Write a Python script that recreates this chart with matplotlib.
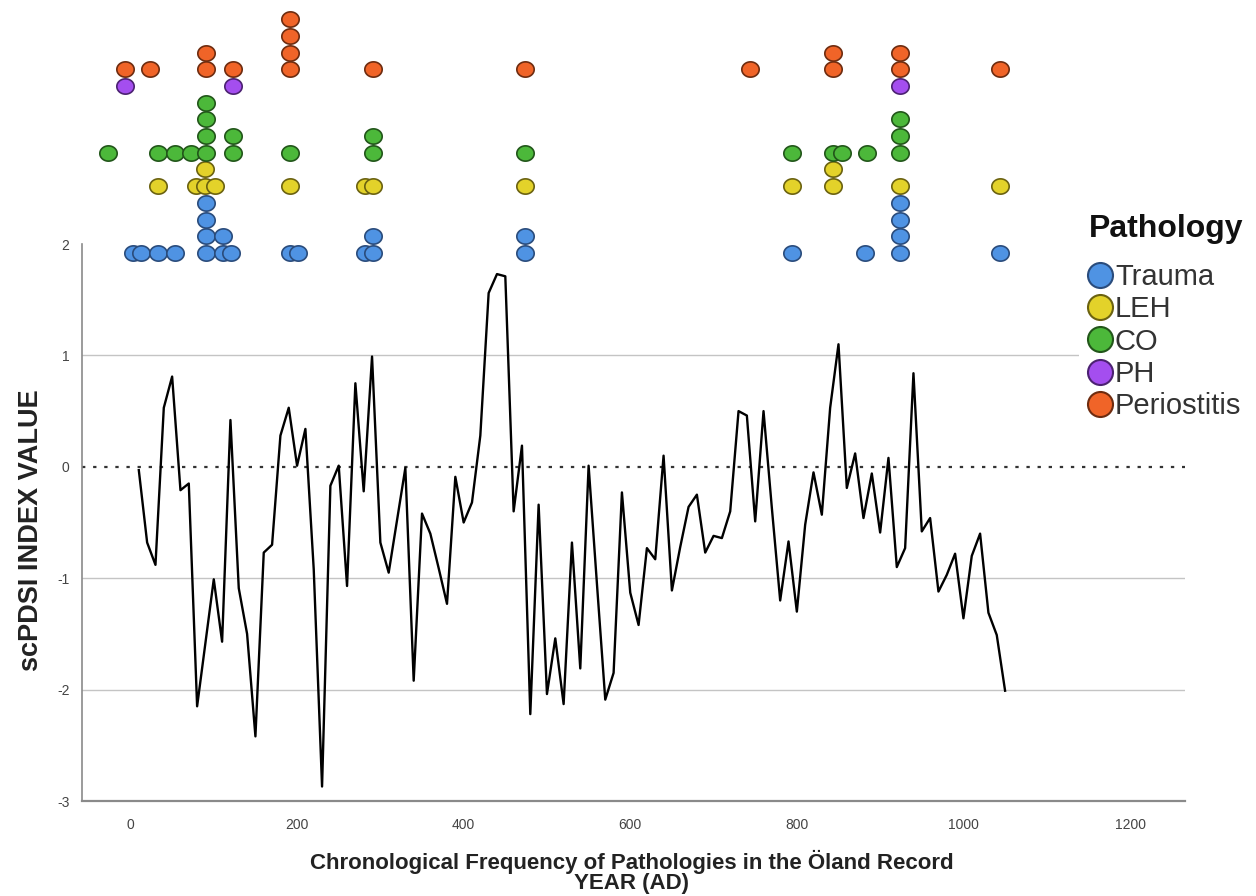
import numpy as np
import matplotlib
matplotlib.use("Agg")
import matplotlib.pyplot as plt
from matplotlib.path import Path
from matplotlib.lines import Line2D

plt.rcParams['font.family'] = ['Liberation Sans', 'DejaVu Sans']

# ---------------- data ----------------
years = list(range(10, 1051, 10))
scpdsi = [-0.03, -0.68, -0.88, 0.53, 0.81, -0.21, -0.15, -2.15, -1.58, -1.01,
          -1.57, 0.42, -1.09, -1.50, -2.42, -0.77, -0.70, 0.28, 0.53, 0.01,
          0.34, -0.92, -2.87, -0.17, 0.01, -1.07, 0.75, -0.22, 0.99, -0.68,
          -0.95, -0.48, -0.01, -1.92, -0.42, -0.60, -0.91, -1.23, -0.09, -0.50,
          -0.32, 0.28, 1.56, 1.73, 1.71, -0.40, 0.19, -2.22, -0.34, -2.04,
          -1.54, -2.13, -0.68, -1.81, 0.01, -1.05, -2.09, -1.85, -0.23, -1.13,
          -1.42, -0.73, -0.83, 0.10, -1.11, -0.72, -0.36, -0.25, -0.77, -0.62,
          -0.64, -0.40, 0.50, 0.46, -0.49, 0.50, -0.37, -1.20, -0.67, -1.30,
          -0.52, -0.05, -0.43, 0.53, 1.10, -0.19, 0.12, -0.46, -0.06, -0.59,
          0.08, -0.90, -0.73, 0.84, -0.58, -0.46, -1.12, -0.97, -0.78, -1.36,
          -0.80, -0.60, -1.31, -1.51, -2.01]

pathologies = ["Trauma", "LEH", "CO", "PH", "Periostitis"]
colors = ["#4F93E3", "#E3D22A", "#4CB83A", "#A44EEF", "#F06428"]
edges = ["#2A4C7C", "#6B6210", "#22561A", "#4C2272", "#6E2C10"]

trauma_years = [3, 13, 33, 53, 91, 111, 121, 191, 201, 281, 291, 474, 794, 882, 924, 1044]
trauma_counts = [1, 1, 1, 1, 4, 2, 1, 1, 1, 1, 2, 2, 1, 1, 4, 1]
leh_years = [33, 79, 89, 101, 191, 281, 291, 474, 794, 844, 924, 1044]
leh_counts = [1, 1, 2, 1, 1, 1, 1, 1, 1, 2, 1, 1]
co_years = [-27, 33, 53, 73, 91, 123, 191, 291, 474, 794, 844, 854, 884, 924]
co_counts = [1, 1, 1, 1, 4, 2, 1, 2, 1, 1, 1, 1, 1, 3]
ph_years = [-7, 123, 924]
ph_counts = [1, 1, 1]
perio_years = [-7, 23, 91, 123, 192, 291, 474, 744, 844, 924, 1044]
perio_counts = [1, 1, 2, 1, 4, 1, 1, 1, 2, 2, 1]

dot_years = [trauma_years, leh_years, co_years, ph_years, perio_years]
dot_counts = [trauma_counts, leh_counts, co_counts, ph_counts, perio_counts]
row_base = [0, 4, 6, 10, 11]

xticks = [0, 200, 400, 600, 800, 1000, 1200]
yticks = [-3, -2, -1, 0, 1, 2]

# ---------------- figure ----------------
W, H = 1256, 896
fig = plt.figure(figsize=(W / 100, H / 100), dpi=100)

def fx(px):
    return px / W

def fy(py):
    return 1 - py / H

L, R, T, B = 82, 1185, 244, 801
ax = fig.add_axes([fx(L), fy(B), fx(R) - fx(L), fy(T) - fy(B)])
xlim = (-58.2, 1266)
ax.set_xlim(*xlim)
ax.set_ylim(-3, 2)

for g in [1, -1, -2]:
    ax.axhline(g, color="#c4c4c4", lw=1.0, zorder=1)
ax.axhline(0, color="#333333", lw=1.6, ls=(0, (1.5, 3.5)), zorder=2)

ax.plot(years, scpdsi, color="black", lw=1.7, zorder=3)

for s in ["top", "right"]:
    ax.spines[s].set_visible(False)
ax.spines["left"].set_color("#8a8a8a")
ax.spines["bottom"].set_color("#8a8a8a")
ax.spines["left"].set_linewidth(1.2)
ax.spines["bottom"].set_linewidth(1.6)
ax.set_xticks(xticks)
ax.set_yticks(yticks)
ax.set_xticklabels([str(v) for v in xticks])
ax.set_yticklabels([str(v) for v in yticks])
ax.tick_params(length=0, labelsize=10, labelcolor="#444444")
ax.tick_params(axis="x", pad=12)
ax.tick_params(axis="y", pad=9)

fig.text(fx(31), fy(530), "scPDSI INDEX VALUE", rotation=90, ha="center",
         va="center", fontsize=19.5, fontweight="bold", color="#222222")
fig.text(fx(632), fy(872), "Chronological Frequency of Pathologies in the Öland Record\nYEAR (AD)",
         ha="center", va="center", fontsize=16, fontweight="bold",
         color="#222222", linespacing=0.9)

# ---------------- dot strip ----------------
axd = fig.add_axes([fx(L), fy(262), fx(R) - fx(L), fy(0) - fy(262)])
axd.set_xlim(*xlim)
axd.set_ylim(-0.54, 15.15)
axd.axis("off")
axd.patch.set_alpha(0)

t = np.linspace(0, 2 * np.pi, 60)
ell = Path(np.column_stack([np.cos(t), 0.88 * np.sin(t)]), closed=True)

for yrs, cnts, base, c, e in zip(dot_years, dot_counts, row_base, colors, edges):
    xs, ys = [], []
    for yv, n in zip(yrs, cnts):
        for i in range(n):
            xs.append(yv)
            ys.append(base + i)
    axd.plot(xs, ys, ls="none", marker=ell, ms=12.5, mfc=c, mec=e, mew=1.2,
             clip_on=False)

# ---------------- legend ----------------
fig.text(fx(1089), fy(229), "Pathology", ha="left", va="center",
         fontsize=23, fontweight="bold", color="#111111")
handles = [Line2D([], [], ls="none", marker="o", ms=18, mfc=c, mec=e, mew=1.5)
           for c, e in zip(colors, edges)]
leg = fig.legend(handles, pathologies, loc="upper left",
                 bbox_to_anchor=(fx(1079), fy(254)), frameon=True,
                 fontsize=21,
                 handlelength=0.85, handletextpad=0.08, labelspacing=0.15,
                 borderpad=0.3, borderaxespad=0)
leg.get_frame().set_facecolor("white")
leg.get_frame().set_edgecolor("none")
leg.get_frame().set_alpha(1)
for txt in leg.get_texts():
    txt.set_color("#333333")

fig.savefig("out.png", dpi=100)
